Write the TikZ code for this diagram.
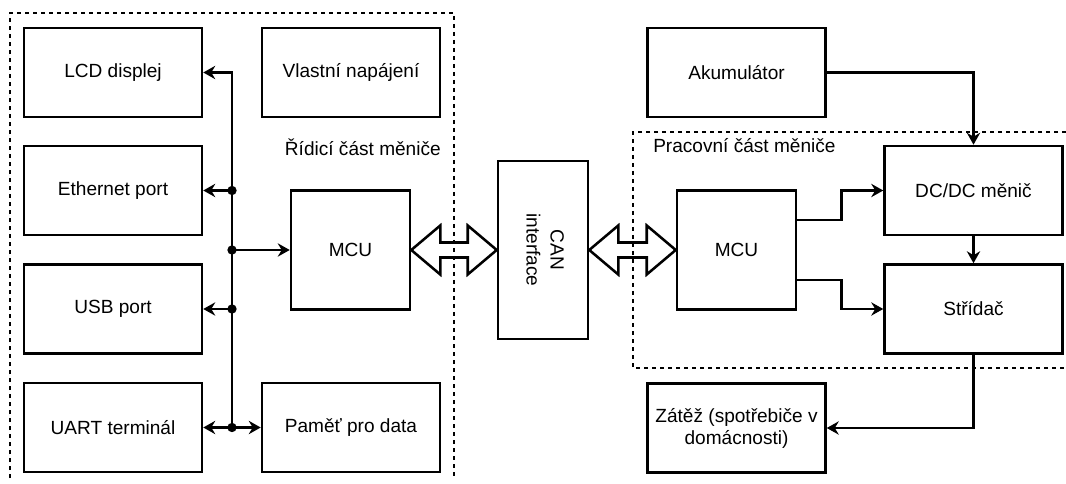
\documentclass[tikz,border=0pt]{standalone}
\usepackage{fontspec}
\setmainfont{Liberation Sans}
\usetikzlibrary{arrows.meta,calc,positioning}

\begin{document}
\begin{tikzpicture}[x=0.75pt,y=-0.75pt,>={Stealth[length=9pt,width=10pt,inset=3pt]},
  blok/.style={draw,line width=1.9pt,minimum width=133.5pt,minimum height=66.75pt,inner sep=0pt,align=center,font=\fontsize{14.3}{16.5}\selectfont},
  mcubox/.style={blok,minimum width=89.25pt,minimum height=89.25pt},
  conn/.style={line width=1.9pt,->},
  castframe/.style={line width=1pt,dash pattern=on 3pt off 3pt},
  lbl/.style={inner sep=0pt,font=\fontsize{14.3}{16.5}\selectfont},
  junction/.style={fill,circle,inner sep=0pt,minimum size=7pt}]
\useasboundingbox (0,0) rectangle (1066,484);
\draw[castframe] (10,478)--(10,13)--(454,13)--(454,478);
\draw[castframe] (1066,132)--(633,132)--(633,368)--(1066,368);
\node[lbl,anchor=east] (ridlbl) at (441,147) {Řídicí část měniče};
\node[lbl,anchor=west] (praclbl) at (653,146) {Pracovní část měniče};
\node[blok] (lcd) at (113,72.5) {LCD displej};
\node[blok] (napajeni) at (351,72.5) {Vlastní napájení};
\node[blok] (eth) at (113,190.5) {Ethernet port};
\node[mcubox] (mcuL) at (350.5,250) {MCU};
\node[blok] (usb) at (113,309) {USB port};
\node[blok] (uart) at (113,427.5) {UART terminál};
\node[blok] (pamet) at (351,427.5) {Paměť pro data};
\node[blok,minimum width=67.5pt,minimum height=133.5pt] (can) at (543,250)
  {\rotatebox{-90}{\begin{tabular}{@{}c@{}}CAN\\[1.5pt]interface\end{tabular}}};
\node[blok] (aku) at (736.5,72.5) {Akumulátor};
\node[mcubox] (mcuR) at (736.5,250) {MCU};
\node[blok] (dcdc) at (973.5,190.5) {DC/DC měnič};
\node[blok] (stridac) at (973.5,309) {Střídač};
\node[blok] (zatez) at (736.5,428) {Zátěž (spotřebiče v\\domácnosti)};
\coordinate (bus) at (232,72.5);
\draw[conn] (bus |- uart) -- (bus) -- (lcd.east);
\draw[conn] (bus |- eth) -- (eth.east);
\draw[conn] (bus |- mcuL) -- (mcuL.west);
\draw[conn] (bus |- usb) -- (usb.east);
\draw[conn,<->] (uart.east) -- (pamet.west);
\foreach \n in {eth,mcuL,usb,uart}
  \node[junction] at (bus |- \n) {};
\draw[line width=1.9pt] (mcuL.east) -- ++(29,-24.5) -- ++(0,17) -- ($(can.west)+(-29,-7.5)$) -- ++(0,-17)
  -- (can.west) -- ++(-29,24.5) -- ++(0,-17) -- ($(mcuL.east)+(29,7.5)$) -- ++(0,17) -- cycle;
\draw[line width=1.9pt] (can.east) -- ++(29,-24.5) -- ++(0,17) -- ($(mcuR.west)+(-29,-7.5)$) -- ++(0,-17)
  -- (mcuR.west) -- ++(-29,24.5) -- ++(0,-17) -- ($(can.east)+(29,7.5)$) -- ++(0,17) -- cycle;
\draw[conn] (aku.east) -| (dcdc.north);
\draw[conn] ($(mcuR.east)+(0,-30)$) -- ++(44,0) |- (dcdc.west);
\draw[conn] ($(mcuR.east)+(0,30)$) -- ++(44,0) |- (stridac.west);
\draw[conn] (dcdc.south) -- (stridac.north);
\draw[conn] (stridac.south) |- (zatez.east);
\end{tikzpicture}
\end{document}
